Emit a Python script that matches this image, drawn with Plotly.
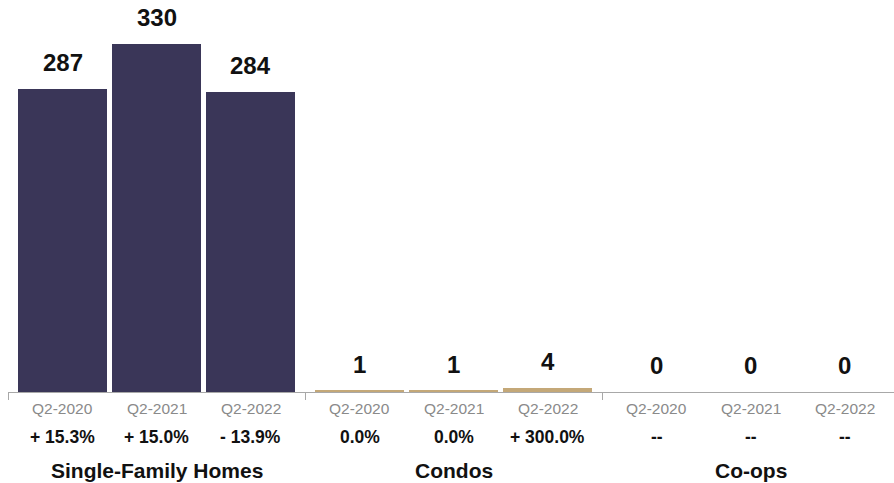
import plotly.graph_objects as go

groups = ["Single-Family Homes", "Condos", "Co-ops"]
periods = ["Q2-2020", "Q2-2021", "Q2-2022"]
sf_values = [287, 330, 284]
condo_values = [1, 1, 4]
coop_values = [0, 0, 0]
sf_changes = ["+ 15.3%", "+ 15.0%", "- 13.9%"]
condo_changes = ["0.0%", "0.0%", "+ 300.0%"]
coop_changes = ["--", "--", "--"]
colors = ["#3a3658", "#c4a878", "#8c8c8c"]

all_values = [sf_values, condo_values, coop_values]
all_changes = [sf_changes, condo_changes, coop_changes]

GROUP_STEP = 3.16
FONT = "Liberation Sans, Arial, Helvetica, sans-serif"

fig = go.Figure()
annotations = []
for g, (name, vals, chg) in enumerate(zip(groups, all_values, all_changes)):
    xs = [g * GROUP_STEP + i for i in range(3)]
    fig.add_trace(go.Bar(x=xs, y=vals, width=0.95, marker_color=colors[g],
                         marker_line_width=0, name=name, showlegend=False))
    for x, v, p, c in zip(xs, vals, periods, chg):
        annotations.append(dict(x=x, y=v, xref="x", yref="y", text="<b>%s</b>" % v, showarrow=False,
                                yanchor="bottom", yshift=11,
                                font=dict(family=FONT, size=24, color="#111111")))
        annotations.append(dict(x=x, y=0, xref="x", yref="paper", text=p, showarrow=False,
                                yanchor="middle", yshift=-16,
                                font=dict(family=FONT, size=15.5, color="#8a8a8a")))
        annotations.append(dict(x=x, y=0, xref="x", yref="paper", text="<b>%s</b>" % c,
                                showarrow=False, yanchor="middle", yshift=-45,
                                font=dict(family=FONT, size=17.5, color="#111111")))
    annotations.append(dict(x=xs[1], y=0, xref="x", yref="paper", text="<b>%s</b>" % name,
                            showarrow=False, yanchor="middle", yshift=-78,
                            font=dict(family=FONT, size=21, color="#111111")))

boundaries = [-0.58, (2 + GROUP_STEP) / 2, (2 * GROUP_STEP + 2 + GROUP_STEP) / 2, 2 * GROUP_STEP + 2.58]

fig.update_layout(
    width=894, height=483,
    margin=dict(l=8, r=0, t=0, b=91),
    plot_bgcolor="white", paper_bgcolor="white",
    bargap=0,
    annotations=annotations,
    xaxis=dict(range=[-0.58, 8.846], showgrid=False, zeroline=False,
               showline=True, linecolor="#a8a8a8", linewidth=1,
               tickvals=boundaries, ticktext=["" for _ in boundaries],
               ticks="outside", ticklen=7, tickcolor="#a8a8a8", tickwidth=1),
    yaxis=dict(range=[0, 371.7], visible=False),
)

fig.write_html("out.html")
